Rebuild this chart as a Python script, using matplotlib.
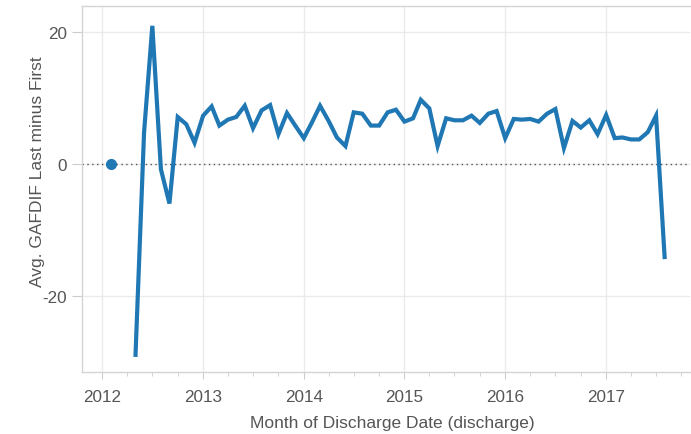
import matplotlib
matplotlib.use('Agg')
import matplotlib.pyplot as plt
import matplotlib.dates as mdates
import numpy as np
import pandas as pd

plt.rcParams['font.family'] = ['Liberation Sans', 'DejaVu Sans']
plt.rcParams['axes.unicode_minus'] = False

# isolated first month
first_month = ['2012-02-01']
first_value = [0.0]

# continuous series, May 2012 .. Aug 2017
months = pd.date_range('2012-05-01', '2017-08-01', freq='MS')
values = [
    -28.9, 4.8, 20.9, -0.8, -6.0, 7.1, 6.0, 3.2,                    # 2012
    7.3, 8.7, 5.8, 6.7, 7.1, 8.8, 5.4, 8.1, 8.9, 4.5, 7.7, 5.8,     # 2013
    3.9, 6.4, 8.8, 6.5, 4.0, 2.7, 7.8, 7.6, 5.8, 5.8, 7.8, 8.2,     # 2014
    6.4, 6.9, 9.7, 8.4, 2.7, 6.9, 6.6, 6.6, 7.3, 6.2, 7.6, 8.0,     # 2015
    3.9, 6.8, 6.7, 6.8, 6.4, 7.6, 8.3, 2.4, 6.5, 5.5, 6.6, 4.5,     # 2016
    7.4, 3.9, 4.0, 3.7, 3.7, 4.8, 7.3, -14.1,                       # 2017
]
yticks = [20, 0, -20]

blue = '#1f77b4'
grid_c = '#ebebeb'
text_c = '#555555'

fig = plt.figure(figsize=(6.91, 4.35), dpi=100)
ax = fig.add_axes([82/691, 62/435, 608/691, 366/435])

ax.plot(months, values, color=blue, lw=3.0, solid_joinstyle='miter', zorder=3)
ax.plot(pd.to_datetime(first_month), first_value, 'o', color=blue, ms=7, zorder=3)

ax.axhline(0, color='#555555', lw=1.0, ls=(0, (1, 2.5)), zorder=2)

ax.set_xlim(pd.Timestamp('2011-10-20'), pd.Timestamp('2017-11-01'))
ax.set_ylim(-31.5, 23.9)

ax.xaxis.set_major_locator(mdates.YearLocator())
ax.xaxis.set_major_formatter(mdates.DateFormatter('%Y'))
ax.xaxis.set_minor_locator(mdates.MonthLocator(bymonth=[4, 7, 10]))
ax.set_yticks(yticks)

ax.grid(axis='x', which='major', color=grid_c, lw=1.0, zorder=0)
ax.grid(axis='y', which='major', color=grid_c, lw=1.0, zorder=0)

for s in ['left', 'bottom', 'top']:
    ax.spines[s].set_color('#d4d4d4')
    ax.spines[s].set_linewidth(1.0)
ax.spines['right'].set_visible(False)

ax.tick_params(axis='x', which='major', length=5, color='#cccccc', labelsize=12.3,
               labelcolor=text_c, pad=7)
ax.tick_params(axis='x', which='minor', length=3, color='#cccccc')
ax.tick_params(axis='y', length=7, color='#cccccc', labelsize=12.3,
               labelcolor=text_c, pad=4)

ax.set_xlabel('Month of Discharge Date (discharge)', fontsize=12.5, color=text_c)
ax.set_ylabel('Avg. GAFDIF Last minus First', fontsize=12.5, color=text_c)
ax.xaxis.set_label_coords(0.511, -0.139)
ax.xaxis.label.set_va('center')
ax.yaxis.set_label_coords(-0.074, 0.549)
ax.yaxis.label.set_va('center')

fig.savefig('out.png', dpi=100)
